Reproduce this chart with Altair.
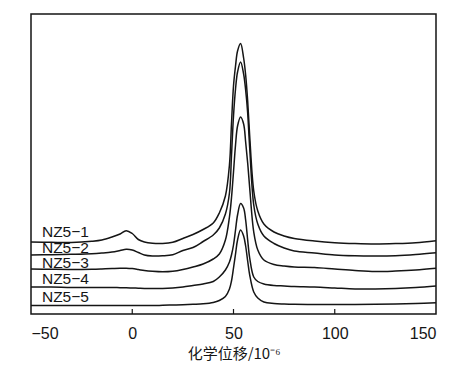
import altair as alt
import pandas as pd

# chemical shift grid (10^-6)
shift = [-50, -40, -30, -20, -15, -10, -6, -3, 0, 3, 6, 10, 15, 20, 25, 30, 35, 40, 43, 46,
         48, 49, 50, 51, 52, 53.5, 55, 56, 57, 58, 60, 62, 65, 70, 75, 80, 90, 100, 110, 120,
         130, 140, 150]

# stacked spectra (arbitrary intensity units, already offset)
nz5_1 = [72, 71.7, 71.5, 72.7, 74, 77, 80, 83.3, 80.5, 74.5, 72, 70.7, 70.5, 71.7, 75.5, 79.5,
         84.5, 91, 101, 118, 149, 190, 228, 248, 263, 270.5, 256, 239, 213, 178, 123, 103, 90,
         82, 78, 75.5, 73, 71.3, 70.4, 70, 70.4, 71.3, 73.3]
nz5_2 = [59, 59.3, 59.7, 60.3, 61, 62, 63.5, 64.7, 64, 61.5, 59, 58, 58.2, 59.3, 63.5, 66.5,
         72.5, 79, 86, 100, 121, 158, 198, 225, 242, 252, 240, 224, 201, 166, 109, 90, 78,
         70.5, 66, 63, 61, 59, 58.2, 58, 58.3, 59.5, 61.3]
nz5_3 = [45, 44.7, 44.5, 44.7, 45, 45.4, 45.7, 45.8, 45.4, 44.5, 43.5, 42.7, 42.2, 42.7, 44.5,
         47, 50, 55, 60, 74, 97, 116, 142, 169, 188, 197, 190, 172, 151, 126, 82, 64, 54,
         49.5, 48, 47, 46.5, 45, 43.5, 42.5, 43, 44, 45.7]
nz5_4 = [27, 27, 26.5, 26.5, 26.5, 26.5, 26.3, 26.2, 26, 25.8, 25.6, 25.5, 25.5, 26, 27, 28.5,
         30, 32.5, 37, 44, 52, 59, 69, 84, 99, 110.5, 106, 94, 74, 56, 37, 32.5, 30, 28.5, 28,
         27.5, 27, 26, 25, 25, 25.5, 26.5, 28]
nz5_5 = [8.5, 8.5, 8.5, 8.5, 8.5, 8.5, 8.5, 8.5, 8.5, 8.5, 8.5, 8.5, 8.7, 9, 9.3, 9.7, 10.2,
         11.5, 13.5, 17.5, 25, 33, 46, 60, 74, 84, 78, 68, 53, 39, 22, 16, 12, 10.5, 10, 9.7,
         9.5, 9.5, 9.5, 9.7, 10, 10.5, 11.3]

series_names = ["NZ5\u22121", "NZ5\u22122", "NZ5\u22123", "NZ5\u22124", "NZ5\u22125"]
label_x = [-44.6, -44.6, -44.6, -44.6, -44.6]
label_y = [82, 66.5, 51, 35.5, 17]

axis_ticks = [-50, 0, 50, 100, 150]
inner_ticks = [0, 50, 100]

rows = []
for name, ys in zip(series_names, [nz5_1, nz5_2, nz5_3, nz5_4, nz5_5]):
    for x, y in zip(shift, ys):
        rows.append({"series": name, "shift": x, "intensity": y})
df = pd.DataFrame(rows)

lab_df = pd.DataFrame({"label": series_names, "x": label_x, "y": label_y})
tick_df = pd.DataFrame({"t": inner_ticks})

xscale = alt.Scale(domain=[-50, 150], nice=False, zero=False)
yscale = alt.Scale(domain=[0, 300], nice=False, zero=False)

lines = alt.Chart(df).mark_line(
    color="#151515", strokeWidth=1.5, interpolate="catmull-rom"
).encode(
    x=alt.X("shift:Q", scale=xscale,
            axis=alt.Axis(values=axis_ticks, title="化学位移/10⁻⁶", grid=False,
                          domain=False, ticks=False, tickSize=0, labelPadding=11,
                          titleY=39, titleBaseline="middle")),
    y=alt.Y("intensity:Q", scale=yscale, axis=None),
    detail="series:N",
)

labels = alt.Chart(lab_df).mark_text(
    align="left", baseline="middle", font="Liberation Sans", fontSize=15.5, color="#151515"
).encode(
    x=alt.X("x:Q", scale=xscale),
    y=alt.Y("y:Q", scale=yscale),
    text="label:N",
)

ticks = alt.Chart(tick_df).mark_rule(color="#151515", strokeWidth=1.2).encode(
    x=alt.X("t:Q", scale=xscale),
    y=alt.value(300),
    y2=alt.value(295),
)

chart = alt.layer(lines, ticks, labels).properties(
    width=405,
    height=300,
    padding={"left": 23, "top": 6, "right": 21, "bottom": 47},
    autosize=alt.AutoSizeParams(type="none"),
    background="white",
).configure_view(
    stroke="#151515", strokeWidth=1.5
).configure_axis(
    labelFont="Liberation Sans", labelFontSize=16, labelColor="#151515",
    titleFont="Noto Sans CJK SC", titleFontSize=15, titleFontWeight="normal",
    titleColor="#151515",
)

chart.save("out.html", embed_options={"renderer": "svg", "actions": False})
